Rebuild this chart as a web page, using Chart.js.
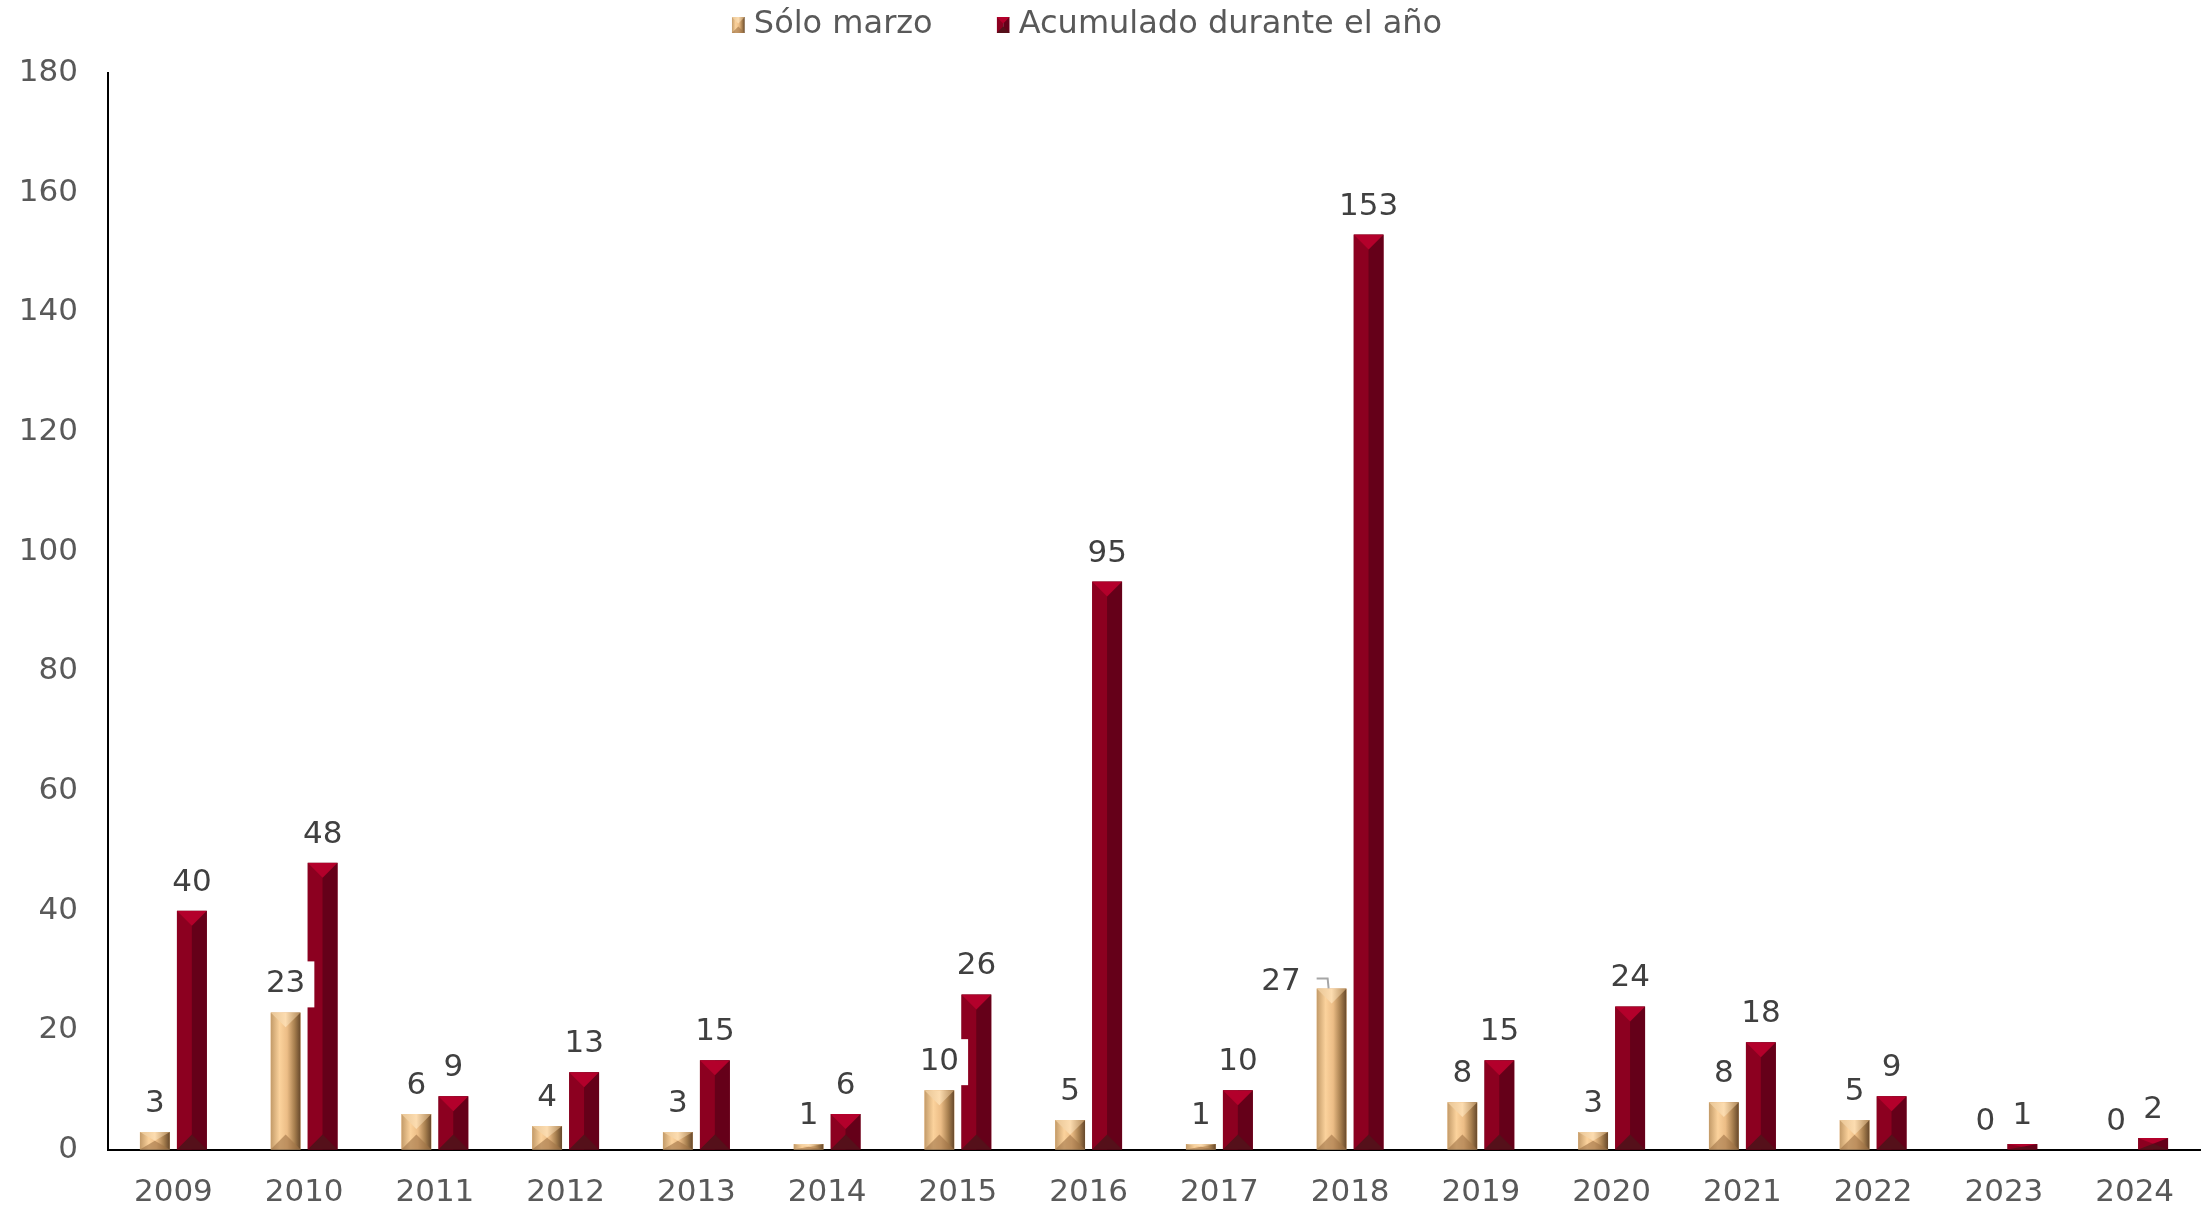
<!DOCTYPE html>
<html>
<head>
<meta charset="utf-8">
<title>Sólo marzo / Acumulado durante el año</title>
<script src="https://cdn.jsdelivr.net/npm/chart.js"></script>
<style>
  html, body { margin: 0; padding: 0; background: #fff; }
  #wrap { width: 2206px; height: 1212px; }
</style>
</head>
<body>
<div id="wrap"><canvas id="chart"></canvas></div>
<script>
// values
const years = ['2009', '2010', '2011', '2012', '2013', '2014', '2015', '2016',
               '2017', '2018', '2019', '2020', '2021', '2022', '2023', '2024'];
const soloMarzo = [3, 23, 6, 4, 3, 1, 10, 5, 1, 27, 8, 3, 8, 5, 0, 0];
const acumulado = [40, 48, 9, 13, 15, 6, 26, 95, 10, 153, 15, 24, 18, 9, 1, 2];
const yTicks = [0, 20, 40, 60, 80, 100, 120, 140, 160, 180];
const seriesNames = ['Sólo marzo', 'Acumulado durante el año'];

const FONT = "'DejaVu Sans', Verdana, sans-serif";
Chart.defaults.font.family = FONT;
Chart.defaults.font.size = 31;
Chart.defaults.color = '#595959';

// draws the bevelled look of a bar (tan or red) inside its rectangle
function bevel(ctx, kind, l, t, w, h) {
  if (h <= 0 || w <= 0) return;
  const r = l + w, b = t + h, cx = l + w / 2;
  const d = Math.min(w / 2, h / 2);
  ctx.save();
  ctx.beginPath();
  ctx.rect(l, t, w, h);
  ctx.clip();
  if (kind === 'red') {
    ctx.fillStyle = '#8c0020';
    ctx.fillRect(l, t, w / 2, h);
    ctx.fillStyle = '#650019';
    ctx.fillRect(cx, t, r - cx, h);
  } else {
    const g = ctx.createLinearGradient(l, 0, r, 0);
    g.addColorStop(0, '#c29a68');
    g.addColorStop(0.3, '#fbd29c');
    g.addColorStop(0.55, '#ecbd86');
    g.addColorStop(0.8, '#a67e4e');
    g.addColorStop(1, '#65472a');
    ctx.fillStyle = g;
    ctx.fillRect(l, t, w, h);
  }
  // top face
  ctx.beginPath();
  ctx.moveTo(l, t); ctx.lineTo(r, t); ctx.lineTo(cx, t + d); ctx.closePath();
  if (kind === 'red') {
    ctx.fillStyle = '#b3002b';
  } else {
    const g2 = ctx.createLinearGradient(l, 0, r, 0);
    g2.addColorStop(0, '#e8c595');
    g2.addColorStop(0.5, '#fcdcb0');
    g2.addColorStop(1, '#b08858');
    ctx.fillStyle = g2;
  }
  ctx.fill();
  // bottom face
  ctx.beginPath();
  ctx.moveTo(l, b); ctx.lineTo(r, b); ctx.lineTo(cx, b - d); ctx.closePath();
  ctx.fillStyle = kind === 'red' ? '#55101a' : 'rgba(160,115,70,0.6)';
  ctx.fill();
  ctx.restore();
}

const barLook = {
  id: 'barLook',
  afterDatasetsDraw(chart) {
    const ctx = chart.ctx;
    chart.data.datasets.forEach((ds, di) => {
      const kind = di === 0 ? 'tan' : 'red';
      chart.getDatasetMeta(di).data.forEach(el => {
        const w = el.width;
        const t = Math.min(el.y, el.base);
        const h = Math.abs(el.base - el.y);
        bevel(ctx, kind, el.x - w / 2, t, w, h);
      });
    });
  }
};

const valueLabels = {
  id: 'valueLabels',
  afterDatasetsDraw(chart, args, opts) {
    const ctx = chart.ctx;
    ctx.save();
    ctx.font = '31px ' + FONT;
    chart.data.datasets.forEach((ds, di) => {
      chart.getDatasetMeta(di).data.forEach((el, i) => {
        const txt = String(ds.data[i]);
        const tw = ctx.measureText(txt).width;
        const moved = opts.moved.some(m => m[0] === di && m[1] === i);
        let x = el.x, y = el.y - 28;
        if (moved) {
          // label set aside to the left with a small leader line
          const left = el.x - el.width / 2;
          x = left - 16 - tw / 2;
          y = el.y - 6;
          ctx.strokeStyle = '#a6a6a6';
          ctx.lineWidth = 2;
          ctx.beginPath();
          ctx.moveTo(left, el.y - 10);
          ctx.lineTo(left + 11, el.y - 10);
          ctx.lineTo(el.x - 3, el.y);
          ctx.stroke();
        }
        if (di === 0) {
          ctx.fillStyle = '#ffffff';
          ctx.fillRect(x - tw / 2 - 9, y - 23, tw + 18, 46);
        }
        ctx.fillStyle = '#404040';
        ctx.textAlign = 'center';
        ctx.textBaseline = 'middle';
        ctx.fillText(txt, x, y);
      });
    });
    ctx.restore();
  }
};

const topLegend = {
  id: 'topLegend',
  afterDraw(chart) {
    const ctx = chart.ctx;
    ctx.save();
    ctx.font = '32px ' + FONT;
    const box = 15, gapText = 7, gapItem = 64;
    const widths = seriesNames.map(n => ctx.measureText(n).width);
    let total = 0;
    widths.forEach((w, i) => { total += box + gapText + w + (i ? gapItem : 0); });
    let x = chart.width / 2 - 16 - total / 2;
    const y = 25;
    seriesNames.forEach((n, i) => {
      bevel(ctx, i === 0 ? 'tan' : 'red', x, y - 8, box - 2, 16);
      x += box + gapText;
      ctx.fillStyle = '#595959';
      ctx.textAlign = 'left';
      ctx.textBaseline = 'middle';
      ctx.fillText(n, x, y);
      x += widths[i] + gapItem;
    });
    ctx.restore();
  }
};

new Chart(document.getElementById('chart'), {
  type: 'bar',
  data: {
    labels: years,
    datasets: [
      { label: seriesNames[0], data: soloMarzo, backgroundColor: '#e8b880', borderWidth: 0 },
      { label: seriesNames[1], data: acumulado, backgroundColor: '#7a001c', borderWidth: 0 }
    ]
  },
  options: {
    responsive: true,
    maintainAspectRatio: false,
    animation: false,
    datasets: { bar: { categoryPercentage: 0.566, barPercentage: 0.81 } },
    layout: { padding: { top: 73, left: 19, right: 6, bottom: 0 } },
    plugins: {
      legend: { display: false },
      tooltip: { enabled: false },
      valueLabels: { moved: [[0, 9]] }
    },
    scales: {
      x: {
        grid: { display: true, drawOnChartArea: false, drawTicks: false },
        border: { display: true, color: '#000000', width: 2 },
        ticks: { padding: 24, color: '#595959', font: { size: 31 } },
        afterFit(s) { s.height = 62; }
      },
      y: {
        min: yTicks[0],
        max: yTicks[yTicks.length - 1],
        grid: { display: true, drawOnChartArea: false, drawTicks: false },
        border: { display: true, color: '#000000', width: 2 },
        ticks: { stepSize: yTicks[1] - yTicks[0], padding: 30, color: '#595959', font: { size: 31 } },
        afterFit(s) { s.width = 89; }
      }
    }
  },
  plugins: [barLook, valueLabels, topLegend]
});
</script>
</body>
</html>
